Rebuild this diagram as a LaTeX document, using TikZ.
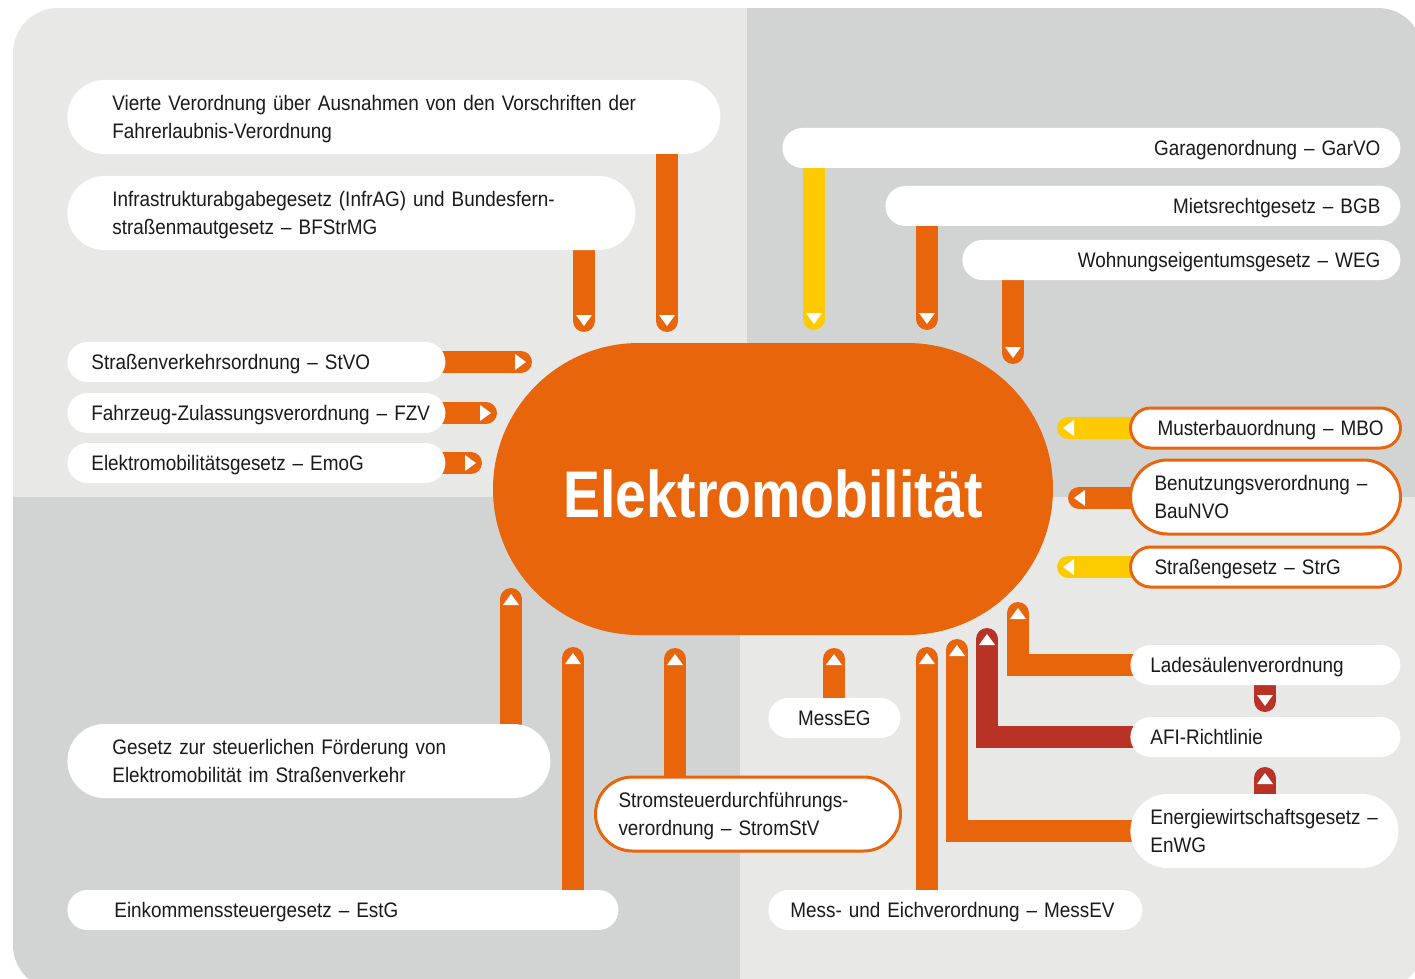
\documentclass[tikz,border=0pt]{standalone}
\usepackage{fontspec}
\setmainfont{Liberation Sans}
\newfontfamily\bodyfont[FakeStretch=0.9]{Liberation Sans}
\newfontfamily\titlefont[FakeStretch=0.84]{Liberation Sans}
\usetikzlibrary{calc}

\definecolor{bgLight}{HTML}{E8E8E6}
\definecolor{bgDark}{HTML}{D2D4D3}
\definecolor{eOrange}{HTML}{E9650C}
\definecolor{eYellow}{HTML}{FECB00}
\definecolor{eRed}{HTML}{B83226}
\definecolor{eText}{HTML}{1A1A1A}

\newcommand\keepline[1]{\mbox{#1}}

\pgfdeclarelayer{bg}
\pgfdeclarelayer{links}
\pgfsetlayers{bg,links,main}

\begin{document}
\begin{tikzpicture}[x=0.5pt,y=-0.5pt,
  txt/.style={font=\bodyfont\fontsize{10.5}{14}\selectfont, text=eText},
  pill/.style={txt, fill=white, anchor=west, inner ysep=0pt, minimum height=20pt,
    rounded corners=10pt, align=left, text height=9pt, text depth=1.5pt},
  pilltwo/.style={pill, minimum height=37pt, rounded corners=18.5pt, text depth=15.5pt},
  ringed/.style={draw=eOrange, line width=1.5pt},
  blob/.style={fill=eOrange, minimum width=280pt, minimum height=146pt,
    rounded corners=73pt, inner sep=0pt, text=white,
    font=\titlefont\bfseries\fontsize{33}{33}\selectfont, text height=30pt, text depth=2pt},
  link/.style={draw=eOrange, line width=11pt, line cap=round},
  linkY/.style={link, draw=eYellow},
  linkR/.style={link, draw=eRed},
  tipD/.pic={\fill[white] (-8,-6) -- (0,5) -- (8,-6) -- cycle;},
  tipU/.pic={\fill[white] (-8,6) -- (0,-5) -- (8,6) -- cycle;},
  tipR/.pic={\fill[white] (-6,-8) -- (5,0) -- (-6,8) -- cycle;},
  tipL/.pic={\fill[white] (6,-8) -- (-5,0) -- (6,8) -- cycle;},
]
\useasboundingbox (0,0) rectangle (1415,979);

% quartered background panel
\begin{pgfonlayer}{bg}
  \begin{scope}
    \clip[rounded corners=22.5pt] (13,8) rectangle (1423,990);
    \fill[bgLight] (13,8) rectangle (747,497);
    \fill[bgDark] (747,8) rectangle (1423,497);
    \fill[bgDark] (13,497) rectangle (740,990);
    \fill[bgLight] (740,497) rectangle (1423,990);
  \end{scope}
\end{pgfonlayer}

% central topic
\node[blob] (emob) at (773,489) {Elektromobilität};

% upper left
\node[pilltwo, text width=281.5pt, inner xsep=22.5pt] (vierte) at (67,117)
  {\keepline{Vierte Verordnung über Ausnahmen von den Vorschriften der}\\Fahrerlaubnis-Verordnung};
\node[pilltwo, text width=239pt, inner xsep=22.5pt] (infra) at (67,213)
  {\keepline{Infrastrukturabgabegesetz (InfrAG) und Bundesfern-}\\straßenmautgesetz – BFStrMG};
\node[pill, text width=165pt, inner xsep=12pt] (stvo) at (67,362) {\keepline{Straßenverkehrsordnung – StVO}};
\node[pill, text width=165pt, inner xsep=12pt] (fzv) at (67,413) {\keepline{Fahrzeug-Zulassungsverordnung – FZV}};
\node[pill, text width=165pt, inner xsep=12pt] (emog) at (67,463) {\keepline{Elektromobilitätsgesetz – EmoG}};

% upper right
\node[pill, align=right, text width=289pt, inner xsep=10pt] (garvo) at (782,148) {Garagenordnung – GarVO};
\node[pill, align=right, text width=237.5pt, inner xsep=10pt] (bgb) at (885,206) {Mietsrechtgesetz – BGB};
\node[pill, align=right, text width=199pt, inner xsep=10pt] (weg) at (962,260) {Wohnungseigentumsgesetz – WEG};

% right, outlined
\node[pill, ringed, text width=108pt, inner xsep=13.5pt] (mbo) at (1129,428) {\keepline{Musterbauordnung – MBO}};
\node[pilltwo, ringed, text width=111pt, inner xsep=12pt] (baunvo) at (1129,497) {\keepline{Benutzungsverordnung –}\\BauNVO};
\node[pill, ringed, text width=111pt, inner xsep=12pt] (strg) at (1129,567) {\keepline{Straßengesetz – StrG}};

% lower right
\node[pill, text width=115pt, inner xsep=10pt] (lade) at (1130,665) {\keepline{Ladesäulenverordnung}};
\node[pill, text width=115pt, inner xsep=10pt] (afi) at (1130,737) {AFI-Richtlinie};
\node[pilltwo, text width=114pt, inner xsep=10pt] (enwg) at (1130,831) {\keepline{Energiewirtschaftsgesetz –}\\EnWG};
\node[pill, align=center, text width=46pt, inner xsep=10pt] (messeg) at (768,718) {MessEG};
\node[pill, text width=165pt, inner xsep=11pt] (messev) at (768,910) {\keepline{Mess- und Eichverordnung – MessEV}};

% lower left
\node[pilltwo, ringed, text width=129.5pt, inner xsep=11.5pt] (stromstv) at (594,814)
  {\keepline{Stromsteuerdurchführungs-}\\\keepline{verordnung – StromStV}};
\node[pilltwo, text width=196.5pt, inner xsep=22.5pt] (foerder) at (67,761)
  {\keepline{Gesetz zur steuerlichen Förderung von}\\\keepline{Elektromobilität im Straßenverkehr}};
\node[pill, text width=228.5pt, inner xsep=23.5pt] (estg) at (67,910) {\keepline{Einkommenssteuergesetz – EstG}};

% arrow heads (centres of the rounded bar ends)
\coordinate (tInfra) at (584,321);
\coordinate (tVierte) at (667,321);
\coordinate (tStvo) at (521,362);
\coordinate (tFzv) at (486,413);
\coordinate (tEmog) at (471,463);
\coordinate (tGarvo) at (814,319);
\coordinate (tBgb) at (927,319);
\coordinate (tWeg) at (1013,353);
\coordinate (tMbo) at (1068,428);
\coordinate (tBau) at (1079,498);
\coordinate (tStrg) at (1068,567);
\coordinate (tLade) at (1018,613);
\coordinate (tAfi) at (987,639);
\coordinate (tEnwg) at (957,650);
\coordinate (tMessev) at (927,658);
\coordinate (tMesseg) at (834,659);
\coordinate (tStrom) at (675,659);
\coordinate (tEstg) at (573,658);
\coordinate (tFoerder) at (511,599);
\coordinate (tLadeAfi) at (1265,701);
\coordinate (tEnwgAfi) at (1265,778);

% connector bars, tucked under the boxes
\begin{pgfonlayer}{links}
  \draw[link] (infra.center -| tInfra) -- (tInfra);
  \draw[link] (vierte.center -| tVierte) -- (tVierte);
  \draw[link] (stvo.center) -- (tStvo);
  \draw[link] (fzv.center) -- (tFzv);
  \draw[link] (emog.center) -- (tEmog);
  \draw[linkY] (garvo.center -| tGarvo) -- (tGarvo);
  \draw[link] (bgb.center -| tBgb) -- (tBgb);
  \draw[link] (weg.center -| tWeg) -- (tWeg);
  \draw[linkY] (mbo.center) -- (tMbo);
  \draw[link] (baunvo.center |- tBau) -- (tBau);
  \draw[linkY] (strg.center) -- (tStrg);
  \draw[link] (lade.center) -| (tLade);
  \draw[linkR] (afi.center) -| (tAfi);
  \draw[link] (enwg.center) -| (tEnwg);
  \draw[link] (messev.center -| tMessev) -- (tMessev);
  \draw[link] (messeg.center -| tMesseg) -- (tMesseg);
  \draw[link] (stromstv.center -| tStrom) -- (tStrom);
  \draw[link] (estg.center -| tEstg) -- (tEstg);
  \draw[link] (foerder.center -| tFoerder) -- (tFoerder);
  \draw[linkR] (lade.center -| tLadeAfi) -- (tLadeAfi);
  \draw[linkR] (enwg.center -| tEnwgAfi) -- (tEnwgAfi);
\end{pgfonlayer}

% white arrow marks
\foreach \t in {tInfra,tVierte,tGarvo,tBgb,tWeg,tLadeAfi} \pic at (\t) {tipD};
\foreach \t in {tStvo,tFzv,tEmog} \pic at (\t) {tipR};
\foreach \t in {tMbo,tBau,tStrg} \pic at (\t) {tipL};
\foreach \t in {tLade,tAfi,tEnwg,tMessev,tMesseg,tStrom,tEstg,tFoerder,tEnwgAfi} \pic at (\t) {tipU};
\end{tikzpicture}
\end{document}
